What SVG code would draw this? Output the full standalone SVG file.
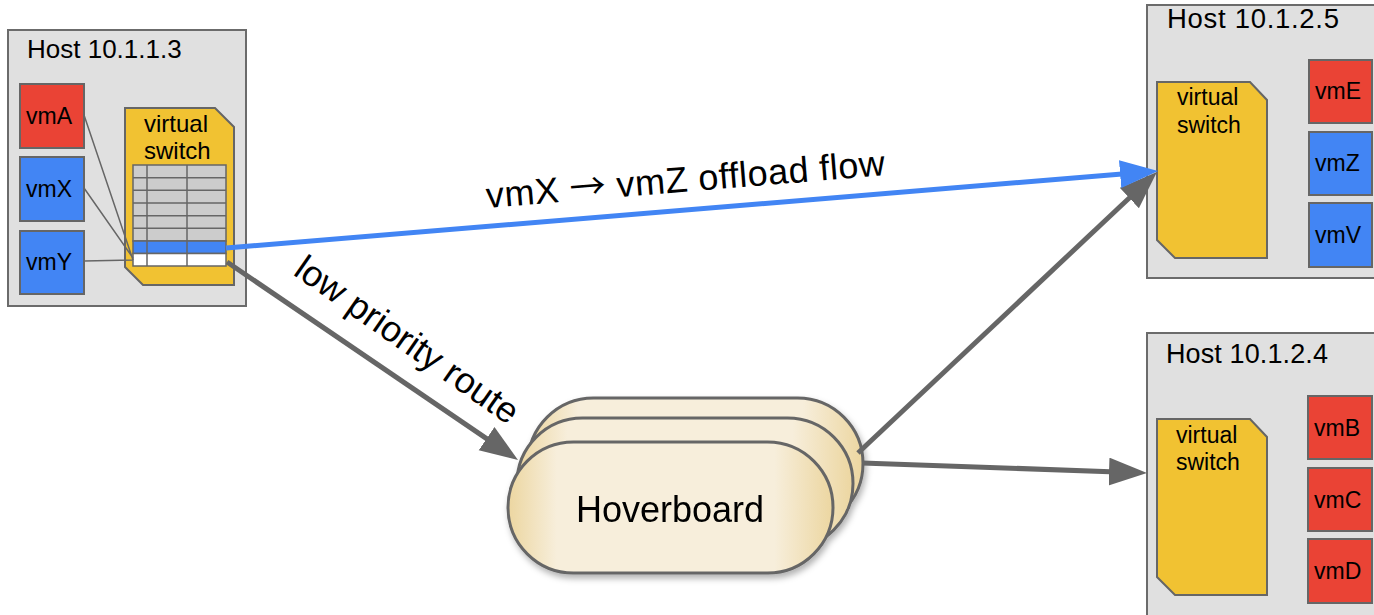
<svg xmlns="http://www.w3.org/2000/svg" width="1374" height="615" viewBox="0 0 1374 615">
<defs>
<style>
text{font-family:"Liberation Sans",Arial,sans-serif;fill:#000}
.host{fill:#e0e0e0;stroke:#6b6b6b;stroke-width:2}
.title{font-size:26px}
.vm{stroke:#666;stroke-width:2}
.red{fill:#ea4335}
.blue{fill:#4285f4}
.vmt{font-size:23px}
.sw{fill:#f1c232;stroke:#666;stroke-width:2}
.swt{font-size:23px}
.cell{stroke:#666;stroke-width:1.5}
.thin{stroke:#666;stroke-width:1.5;fill:none}
.hb{fill:url(#hbg);stroke:#666;stroke-width:3}
.gline{stroke:#666;stroke-width:5;fill:none}
.bline{stroke:#4285f4;stroke-width:5;fill:none}
.lbl{font-size:36px}
.arr{font-family:"Noto Sans CJK SC","DejaVu Sans",sans-serif}
</style>
<linearGradient id="hbg" x1="0" y1="0" x2="1" y2="0">
<stop offset="0" stop-color="#ecd6a0"/>
<stop offset="0.15" stop-color="#f7eedb"/>
<stop offset="0.82" stop-color="#f7eedb"/>
<stop offset="1" stop-color="#ecd6a0"/>
</linearGradient>
<filter id="sh" x="-10%" y="-10%" width="130%" height="140%">
<feDropShadow dx="2" dy="4" stdDeviation="3" flood-color="#000" flood-opacity="0.3"/>
</filter>
<marker id="ag" markerUnits="userSpaceOnUse" markerWidth="40" markerHeight="30" refX="8" refY="14" orient="auto">
<path d="M0,0 L38,14 L0,28 Z" fill="#666"/>
</marker>
<marker id="ab" markerUnits="userSpaceOnUse" markerWidth="40" markerHeight="30" refX="8" refY="14" orient="auto">
<path d="M0,0 L38,14 L0,28 Z" fill="#4285f4"/>
</marker>
</defs>
<rect width="1374" height="615" fill="#fff"/>

<g id="host-10-1-1-3">
<rect class="host" x="8" y="30" width="238" height="276"/>
<text class="title" x="27" y="58">Host 10.1.1.3</text>
<rect class="vm red" x="20" y="84" width="64" height="64"/>
<text class="vmt" x="26" y="124">vmA</text>
<rect class="vm blue" x="20" y="157" width="64" height="64"/>
<text class="vmt" x="26" y="197">vmX</text>
<rect class="vm blue" x="20" y="231" width="64" height="63"/>
<text class="vmt" x="26" y="270">vmY</text>
<path class="sw" d="M125,108 H215 L234,127 V285 H143 L125,267 Z"/>
<text class="swt" x="144" y="132" style="font-size:24px">virtual</text>
<text class="swt" x="144" y="159" style="font-size:24px">switch</text>
<g id="flow-table">
<rect class="cell" x="133" y="165" width="93" height="76" fill="#cccccc"/>
<rect class="cell" x="133" y="241" width="93" height="12.5" fill="#4285f4"/>
<rect class="cell" x="133" y="253.5" width="93" height="12.5" fill="#ffffff"/>
<path class="cell" d="M133,177.7 H226 M133,190.3 H226 M133,203 H226 M133,215.7 H226 M133,228.3 H226 M147,165 V266 M187,165 V266" fill="none"/>
</g>
<path class="thin" d="M84,115 L133,260 M84,188 L133,258 M84,261 L133,260"/>
</g>

<g id="host-10-1-2-5">
<rect class="host" x="1147" y="5" width="238" height="273"/>
<text class="title" x="1167" y="28" style="font-size:27.5px" textLength="172">Host 10.1.2.5</text>
<path class="sw" d="M1157,82 H1250 L1267,100 V258 H1175 L1157,240 Z"/>
<text class="swt" x="1177" y="105">virtual</text>
<text class="swt" x="1177" y="133">switch</text>
<rect class="vm red" x="1309" y="60" width="63" height="63"/>
<text class="vmt" x="1315" y="99">vmE</text>
<rect class="vm blue" x="1309" y="132" width="63" height="63"/>
<text class="vmt" x="1315" y="171">vmZ</text>
<rect class="vm blue" x="1309" y="203" width="63" height="64"/>
<text class="vmt" x="1315" y="243">vmV</text>
</g>

<g id="host-10-1-2-4">
<rect class="host" x="1147" y="333" width="238" height="300"/>
<text class="title" x="1166" y="363" style="font-size:27px" textLength="162">Host 10.1.2.4</text>
<path class="sw" d="M1157,419 H1250 L1267,437 V595 H1175 L1157,577 Z"/>
<text class="swt" x="1176" y="443">virtual</text>
<text class="swt" x="1176" y="470">switch</text>
<rect class="vm red" x="1308" y="396" width="64" height="63"/>
<text class="vmt" x="1314" y="436">vmB</text>
<rect class="vm red" x="1308" y="468" width="64" height="63"/>
<text class="vmt" x="1314" y="508">vmC</text>
<rect class="vm red" x="1308" y="539" width="64" height="64"/>
<text class="vmt" x="1314" y="579">vmD</text>
</g>

<g id="hoverboard" filter="url(#sh)">
<rect class="hb" x="528" y="398" width="335" height="131" rx="65.5"/>
<rect class="hb" x="517" y="418" width="336" height="131" rx="65.5"/>
<rect class="hb" x="508" y="442" width="325" height="131" rx="65.5"/>
<text x="576" y="522" style="font-size:36px">Hoverboard</text>
</g>

<g id="connectors">
<line class="gline" x1="227" y1="262" x2="493.2" y2="443.1" marker-end="url(#ag)"/>
<line class="gline" x1="858" y1="453" x2="1135.1" y2="192.5" marker-end="url(#ag)"/>
<line class="gline" x1="862" y1="463" x2="1117" y2="471.9" marker-end="url(#ag)"/>
<line class="bline" x1="226" y1="248" x2="1128.1" y2="173.5" marker-end="url(#ab)"/>
<text class="lbl" transform="translate(487,208) rotate(-4.7)" textLength="400" lengthAdjust="spacing">vmX <tspan class="arr">→</tspan> vmZ offload flow</text>
<text class="lbl" transform="translate(292,274) rotate(35)">low priority route</text>
</g>
</svg>
